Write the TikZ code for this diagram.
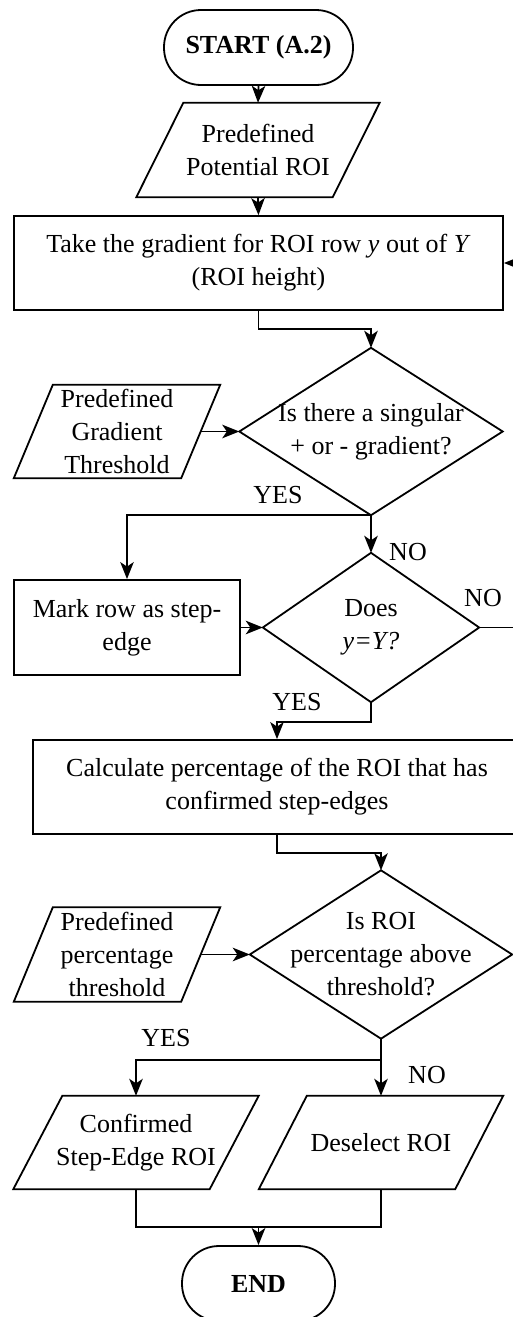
\documentclass[tikz,border=0pt]{standalone}
\usepackage{fontspec}
\setmainfont{Liberation Serif}
\usetikzlibrary{arrows.meta,calc}
\newcommand{\mypara}[2]{\draw[shapeline] ([xshift=#2]#1.north west) -- ([xshift=#2]#1.north east) -- ([xshift=-#2]#1.south east) -- ([xshift=-#2]#1.south west) -- cycle;}
\newcommand{\mydiam}[1]{\draw[shapeline] (#1.north) -- (#1.east) -- (#1.south) -- (#1.west) -- cycle;}
\begin{document}
\begin{tikzpicture}[x=1pt,y=-1pt,
  every node/.style={font=\fontsize{26}{33}\selectfont, inner sep=0pt, align=center},
  shapeline/.style={line width=1.8pt, line join=miter},
  conn/.style={line width=1.8pt},
  arr/.style={conn, -{Stealth[length=17pt,width=13.5pt,inset=4.5pt]}},
  boxed/.style={draw, line width=1.8pt, rectangle},
  term/.style={draw, line width=1.8pt, rectangle, rounded corners=37pt, minimum height=75pt},
  holder/.style={rectangle},
  lbl/.style={}]
\useasboundingbox (0,0) rectangle (513,1317);
\clip (0,0) rectangle (513,1317);
\fill[white] (0,0) rectangle (513,1317);

% nodes
\node[term, minimum width=189pt] (start) at (258.5,47.5) {\bfseries START (A.2)};
\node[holder, minimum width=196pt, minimum height=94pt] (p1) at (258,150) {Predefined\\Potential ROI};
\node[boxed, minimum width=489pt, minimum height=94pt] (r1) at (258.5,263) {Take the gradient for ROI row \textit{y} out of \textit{Y}\\(ROI height)};
\node[holder, minimum width=263pt, minimum height=167pt] (d1) at (371,431.5) {Is there a singular\\+ or - gradient?};
\node[holder, minimum width=167pt, minimum height=93pt] (p2) at (117,431.5) {Predefined\\Gradient\\Threshold};
\node[boxed, minimum width=226pt, minimum height=95pt] (m) at (127,627.5) {Mark row as step-\\edge};
\node[holder, minimum width=216pt, minimum height=149pt] (d2) at (371,627.5) {Does\\\textit{y=Y?}};
\node[boxed, minimum width=488pt, minimum height=94pt] (c) at (277,787) {Calculate percentage of the ROI that has\\confirmed step-edges};
\node[holder, minimum width=262pt, minimum height=168pt] (d3) at (381,954.5) {Is ROI\\percentage above\\threshold?};
\node[holder, minimum width=167pt, minimum height=94pt] (p3) at (117,954.5) {Predefined\\percentage\\threshold};
\node[holder, minimum width=196pt, minimum height=93pt] (p4) at (136,1142.5) {Confirmed\\Step-Edge ROI};
\node[holder, minimum width=196pt, minimum height=93pt] (p5) at (381,1142.5) {Deselect ROI};
\node[term, minimum width=153pt] (end) at (258.5,1283.5) {\bfseries END};

% shapes drawn around holders
\mypara{p1}{23.5pt}
\mypara{p2}{19.5pt}
\mypara{p3}{19.5pt}
\mypara{p4}{24.5pt}
\mypara{p5}{24pt}
\mydiam{d1}
\mydiam{d2}
\mydiam{d3}

% labels
\node[lbl] (yes1) at (278,495) {YES};
\node[lbl] (no1) at (408,552) {NO};
\node[lbl] (no2) at (483,598) {NO};
\node[lbl] (yes2) at (297,702) {YES};
\node[lbl] (yes3) at (166,1038) {YES};
\node[lbl] (no3) at (427,1075) {NO};

% connectors
\coordinate (lp) at (530,0);
\coordinate (j) at (258.5,1227);
\draw[arr] (start.south) -- (p1.north);
\draw[arr] (p1.south) -- (r1.north);
\draw[arr] (r1.south) -- ++(0,18) -| (d1.north);
\draw[arr] (p2.east) -- (d1.west);
\draw[arr] (d1.south) -- (d2.north);
\draw[arr] (d1.south) -| (m.north);
\draw[arr] (m.east) -- (d2.west);
\draw[arr] (d2.east) -- (d2.east -| lp) |- (r1.east);
\draw[arr] (d2.south) -- ++(0,20) -| (c.north);
\draw[arr] (c.south) -- ++(0,18) -| (d3.north);
\draw[arr] (p3.east) -- (d3.west);
\draw[arr] (d3.south) -- ++(0,21) -| (p4.north);
\draw[arr] (d3.south) -- (p5.north);
\draw[conn] (p4.south) |- (j) -| (p5.south);
\draw[arr] (j) -- (end.north);
\end{tikzpicture}
\end{document}
